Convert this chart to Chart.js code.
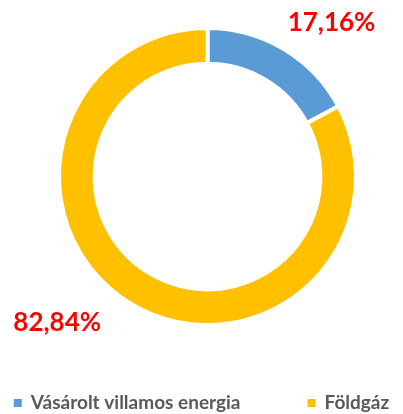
<!DOCTYPE html>
<html>
<head>
<meta charset="utf-8">
<script src="https://cdn.jsdelivr.net/npm/chart.js@4.4.0/dist/chart.umd.min.js"></script>
<style>
  html, body { margin: 0; padding: 0; background: #fff; }
  #wrap { width: 403px; height: 414px; position: relative; }
</style>
</head>
<body>
<div id="wrap"><canvas id="energyChart"></canvas></div>
<script>
// data
var categories = ['Vásárolt villamos energia', 'Földgáz'];
var shares = [17.16, 82.84];
var colors = ['#5b9bd5', '#ffc000'];
// label anchor: angle shift (deg) and distance factor from the ring
var labelShift = [8, 15];
var labelDist = [1.33, 1.41];

// percentage labels outside the ring
var pctLabels = {
    id: 'pctLabels',
    afterDatasetsDraw: function (chart) {
        var ctx = chart.ctx;
        var meta = chart.getDatasetMeta(0);
        ctx.save();
        ctx.font = 'bold 26px Lato';
        ctx.fillStyle = '#ff0000';
        ctx.textAlign = 'center';
        ctx.textBaseline = 'middle';
        meta.data.forEach(function (arc, i) {
            var p = arc.getProps(['x', 'y', 'startAngle', 'endAngle', 'outerRadius']);
            var mid = (p.startAngle + p.endAngle) / 2 + labelShift[i] * Math.PI / 180;
            var r = p.outerRadius * labelDist[i];
            var txt = shares[i].toFixed(2).replace('.', ',') + '%';
            ctx.fillText(txt, p.x + Math.cos(mid) * r, p.y + Math.sin(mid) * r);
        });
        ctx.restore();
    }
};

// legend drawn by hand so both items stay on one wide row
var wideLegend = {
    id: 'wideLegend',
    afterDraw: function (chart) {
        var ctx = chart.ctx;
        var box = 8, gap = 9, itemGap = 67, y = 403;
        ctx.save();
        ctx.font = 'bold 19px Lato';
        ctx.textBaseline = 'middle';
        var widths = chart.data.labels.map(function (l) { return box + gap + ctx.measureText(l).width; });
        var total = widths.reduce(function (a, b) { return a + b; }, 0) + itemGap * (widths.length - 1);
        var x = (chart.width - total) / 2;
        chart.data.labels.forEach(function (l, i) {
            ctx.fillStyle = chart.data.datasets[0].backgroundColor[i];
            ctx.fillRect(x, y - box / 2, box, box);
            ctx.fillStyle = '#595959';
            ctx.fillText(l, x + box + gap, y);
            x += widths[i] + itemGap;
        });
        ctx.restore();
    }
};

var energyChart = new Chart(document.getElementById('energyChart'), {
    type: 'doughnut',
    data: {
        labels: categories,
        datasets: [{
            data: shares,
            backgroundColor: colors,
            borderColor: '#ffffff',
            borderWidth: 4
        }]
    },
    options: {
        responsive: true,
        maintainAspectRatio: false,
        animation: false,
        cutout: '76%',
        layout: { padding: { top: 26, left: 57, right: 45, bottom: 87 } },
        plugins: {
            tooltip: { enabled: false },
            legend: { display: false }
        }
    },
    plugins: [pctLabels, wideLegend]
});
</script>
</body>
</html>
